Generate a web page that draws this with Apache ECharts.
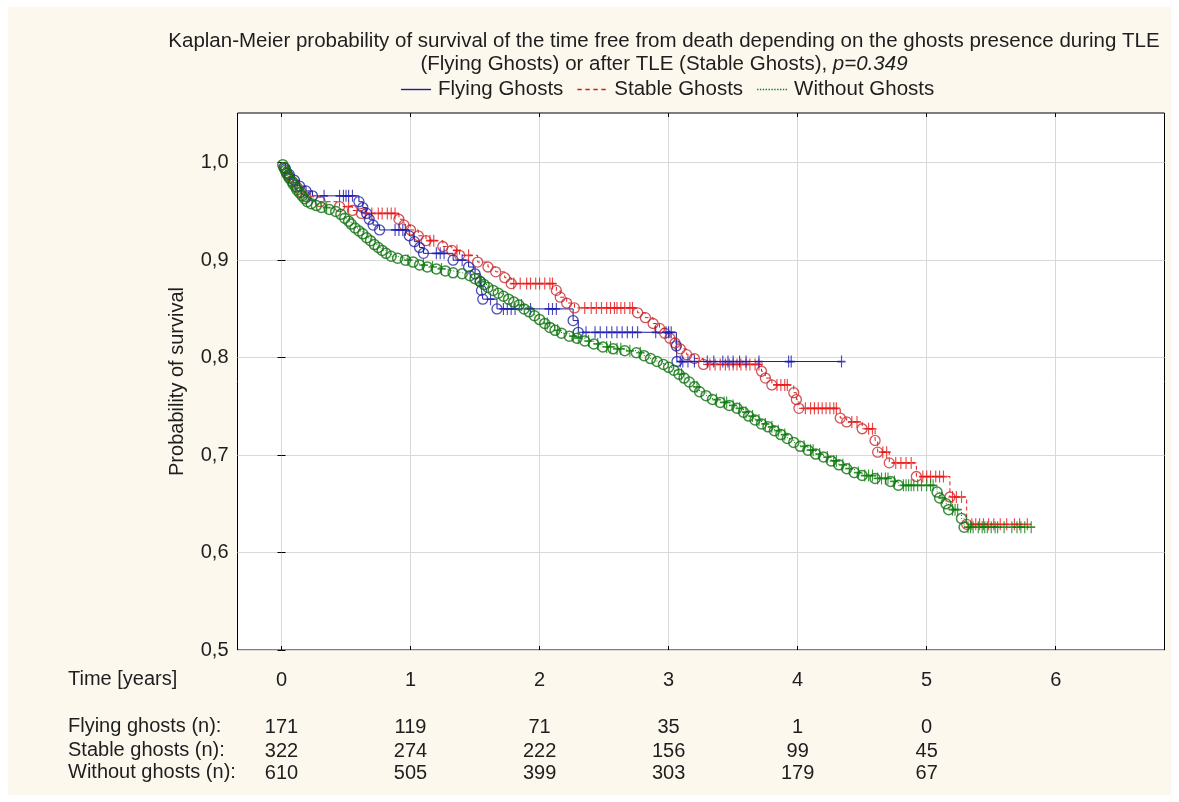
<!DOCTYPE html>
<html>
<head>
<meta charset="utf-8">
<script src="https://cdn.jsdelivr.net/npm/echarts@6/dist/echarts.min.js"></script>
<style>
  html, body { margin: 0; padding: 0; background: #ffffff; }
  #panel { position: absolute; left: 8px; top: 7px; width: 1163px; height: 788px; background: #fcf8ee; }
  #chart { position: absolute; left: 0; top: 0; width: 1179px; height: 802px; }
</style>
</head>
<body>
<div id="panel"></div>
<div id="chart"></div>
<script>
// ---- axes and table ----
const timeTicks = [0, 1, 2, 3, 4, 5, 6];
const survivalTicks = [0.5, 0.6, 0.7, 0.8, 0.9, 1.0];
const riskTimes = [0, 1, 2, 3, 4, 5];
const flyingAtRisk = [171, 119, 71, 35, 1, 0];
const stableAtRisk = [322, 274, 222, 156, 99, 45];
const withoutAtRisk = [610, 505, 399, 303, 179, 67];
const riskRowLabels = ['Flying ghosts (n):', 'Stable ghosts (n):', 'Without ghosts (n):'];
const groupNames = ['Flying Ghosts', 'Stable Ghosts', 'Without Ghosts'];

// ---- Kaplan-Meier estimates: [time in years, survival after the death] ----
const flyingEvents = [
  [0.03, 0.994], [0.06, 0.988], [0.10, 0.982], [0.14, 0.976], [0.19, 0.971], [0.24, 0.966],
  [0.60, 0.960], [0.63, 0.954], [0.66, 0.948], [0.68, 0.942], [0.71, 0.936], [0.76, 0.931],
  [0.99, 0.925], [1.03, 0.919], [1.07, 0.913], [1.10, 0.907],
  [1.33, 0.900], [1.45, 0.893], [1.50, 0.886],
  [1.54, 0.878], [1.55, 0.869], [1.56, 0.860], [1.67, 0.850],
  [2.26, 0.838], [2.30, 0.826], [3.06, 0.812], [3.065, 0.796]
];
// censored follow-up times
const flyingCensored = [
  0.33, 0.45, 0.48, 0.50, 0.52, 0.55, 0.88, 0.91, 0.94, 0.96, 1.20, 1.23, 1.26, 1.40,
  1.62, 1.72, 1.75, 1.78, 1.81, 1.93, 2.07, 2.10, 2.13, 2.36, 2.43, 2.47, 2.52, 2.56,
  2.60, 2.64, 2.68, 2.72, 2.76, 2.90, 2.98, 3.00, 3.02, 3.09, 3.11, 3.15, 3.20, 3.30,
  3.35, 3.42, 3.46, 3.50, 3.55, 3.60, 3.70, 3.93, 3.95, 4.34
];

const stableEvents = [
  [0.02, 0.995], [0.04, 0.990], [0.06, 0.985], [0.09, 0.980], [0.12, 0.975], [0.15, 0.970],
  [0.19, 0.965], [0.30, 0.960], [0.45, 0.955], [0.55, 0.951], [0.62, 0.948],
  [0.91, 0.942], [0.95, 0.936], [1.00, 0.931], [1.06, 0.925], [1.12, 0.920],
  [1.25, 0.914], [1.32, 0.910], [1.38, 0.905], [1.52, 0.898], [1.60, 0.893], [1.66, 0.888],
  [1.73, 0.882], [1.78, 0.876], [2.13, 0.869], [2.16, 0.862], [2.21, 0.856], [2.27, 0.851],
  [2.76, 0.846], [2.82, 0.841], [2.88, 0.835], [2.93, 0.830], [2.97, 0.825], [3.01, 0.820],
  [3.05, 0.815], [3.09, 0.809], [3.14, 0.803], [3.20, 0.799], [3.27, 0.793],
  [3.72, 0.786], [3.75, 0.779], [3.80, 0.772], [3.97, 0.764], [3.99, 0.757], [4.01, 0.748],
  [4.33, 0.738], [4.38, 0.734], [4.50, 0.727], [4.60, 0.715], [4.62, 0.703], [4.71, 0.692],
  [4.92, 0.678], [5.18, 0.657], [5.31, 0.629]
];
const stableCensored = [
  0.52, 0.65, 0.70, 0.75, 0.78, 0.82, 0.85, 0.88, 1.15, 1.18, 1.36, 1.45, 1.80, 1.85,
  1.90, 1.93, 1.97, 2.00, 2.04, 2.08, 2.10, 2.35, 2.40, 2.44, 2.48, 2.52, 2.55, 2.58,
  2.60, 2.63, 2.66, 2.70, 2.72, 3.32, 3.36, 3.40, 3.44, 3.47, 3.50, 3.53, 3.56, 3.60,
  3.63, 3.67, 3.70, 3.84, 3.87, 3.90, 3.92, 4.06, 4.10, 4.13, 4.16, 4.19, 4.22, 4.25,
  4.28, 4.30, 4.42, 4.46, 4.55, 4.58, 4.66, 4.69, 4.76, 4.80, 4.84, 4.88, 4.97, 5.00,
  5.03, 5.07, 5.10, 5.13, 5.20, 5.23, 5.27, 5.35, 5.38, 5.41, 5.44, 5.48, 5.52, 5.57,
  5.62, 5.68, 5.72, 5.78
];

const withoutEvents = [
  [0.01, 0.998], [0.02, 0.995], [0.03, 0.992], [0.04, 0.989], [0.05, 0.987], [0.06, 0.984],
  [0.08, 0.981], [0.09, 0.978], [0.11, 0.975], [0.12, 0.972], [0.14, 0.969], [0.16, 0.966],
  [0.18, 0.963], [0.20, 0.960], [0.23, 0.958], [0.27, 0.956], [0.31, 0.954], [0.37, 0.952],
  [0.42, 0.950], [0.46, 0.947], [0.49, 0.943], [0.52, 0.940], [0.54, 0.937], [0.57, 0.933],
  [0.60, 0.930], [0.63, 0.927], [0.66, 0.923], [0.69, 0.920], [0.72, 0.916], [0.75, 0.913],
  [0.78, 0.910], [0.81, 0.907], [0.85, 0.904], [0.90, 0.902], [0.96, 0.900], [1.02, 0.898],
  [1.07, 0.895], [1.13, 0.893], [1.20, 0.891], [1.27, 0.889], [1.33, 0.887], [1.40, 0.886],
  [1.46, 0.884], [1.50, 0.881], [1.54, 0.878], [1.57, 0.875], [1.60, 0.872], [1.64, 0.869],
  [1.68, 0.866], [1.72, 0.863], [1.76, 0.860], [1.80, 0.857], [1.84, 0.854], [1.88, 0.850],
  [1.92, 0.847], [1.96, 0.843], [2.00, 0.839], [2.04, 0.835], [2.08, 0.831], [2.12, 0.828],
  [2.17, 0.825], [2.23, 0.822], [2.29, 0.820], [2.35, 0.817], [2.42, 0.814], [2.49, 0.811],
  [2.57, 0.809], [2.66, 0.807], [2.75, 0.805], [2.81, 0.802], [2.86, 0.799], [2.91, 0.796],
  [2.96, 0.793], [3.00, 0.790], [3.04, 0.787], [3.08, 0.783], [3.12, 0.779], [3.16, 0.775],
  [3.20, 0.770], [3.24, 0.765], [3.29, 0.761], [3.34, 0.757], [3.40, 0.754], [3.47, 0.751],
  [3.53, 0.748], [3.58, 0.744], [3.62, 0.740], [3.67, 0.736], [3.72, 0.732], [3.77, 0.729],
  [3.82, 0.725], [3.87, 0.721], [3.92, 0.717], [3.97, 0.713], [4.02, 0.709], [4.08, 0.705],
  [4.14, 0.701], [4.20, 0.698], [4.26, 0.694], [4.32, 0.690], [4.38, 0.686], [4.44, 0.682],
  [4.50, 0.679], [4.60, 0.676], [4.72, 0.673], [4.78, 0.669], [5.08, 0.662], [5.10, 0.656],
  [5.15, 0.650], [5.17, 0.644], [5.27, 0.635], [5.29, 0.626]
];
const withoutCensored = [
  0.35, 0.98, 1.10, 1.17, 1.24, 1.55, 1.86, 2.06, 2.14, 2.26, 2.30, 2.38, 2.45, 2.52,
  2.55, 2.60, 2.63, 2.70, 2.78, 3.10, 3.22, 3.37, 3.43, 3.45, 3.50, 3.55, 3.60, 3.65,
  3.70, 3.75, 3.80, 3.85, 3.90, 4.05, 4.10, 4.12, 4.17, 4.23, 4.28, 4.30, 4.35, 4.40,
  4.47, 4.52, 4.55, 4.58, 4.62, 4.65, 4.68, 4.70, 4.75, 4.82, 4.84, 4.86, 4.88, 4.90,
  4.93, 4.96, 5.00, 5.03, 5.05, 5.12, 5.20, 5.22, 5.24, 5.32, 5.34, 5.36, 5.40, 5.43,
  5.45, 5.47, 5.50, 5.53, 5.55, 5.60, 5.66, 5.70, 5.73, 5.76, 5.81
];

// ---- helpers ----
const FONT = '"Liberation Sans", Arial, sans-serif';
const TEXT = '#1e1e1e';

function survivalAt(events, t) {
  let s = 1;
  for (const e of events) { if (e[0] <= t) s = e[1]; else break; }
  return s;
}
function stepCurve(events, censored) {
  const last = Math.max(events[events.length - 1][0], censored[censored.length - 1]);
  return [[0, 1]].concat(events, [[last, survivalAt(events, last)]]);
}
function censorPoints(events, censored) {
  return censored.map(t => [t, survivalAt(events, t)]);
}
const comma = v => v.toFixed(1).replace('.', ',');

// legend keys: a solid, a dashed and a dotted stroke
const solidKey = 'path://M0,0h30v1.4h-30z';
const dashedKey = 'path://M0,0h4.5v1.4h-4.5z M8,0h4.5v1.4h-4.5z M16,0h4.5v1.4h-4.5z M24,0h4.5v1.4h-4.5z M30,0h0.01v1.4h-0.01z';
const dottedKey = 'path://' + Array.from({ length: 11 }, (_, i) => 'M' + (i * 3) + ',0h1.4v1.4h-1.4z').join(' ')
  + ' M30,0h0.01v1.4h-0.01z';

const groups = [
  { name: groupNames[1], events: stableEvents, censored: stableCensored,
    line: '#e01a1a', circle: '#c42a30', plus: '#ea1515', dash: [4, 3], key: dashedKey, w: 1.3 },
  { name: groupNames[0], events: flyingEvents, censored: flyingCensored,
    line: '#1c1ca0', circle: '#2020a8', plus: '#1c1cb0', dash: 'solid', key: solidKey, w: 1.3 },
  { name: groupNames[2], events: withoutEvents, censored: withoutCensored,
    line: '#0b7d0b', circle: '#107210', plus: '#0a7d0a', dash: [1, 2], key: dottedKey, w: 1.5 }
];

const series = [];
groups.forEach(g => {
  series.push({
    name: g.name, type: 'line', step: 'end', symbol: 'none',
    data: stepCurve(g.events, g.censored),
    lineStyle: { color: g.line, width: 1, type: g.dash },
    itemStyle: { color: g.line }, z: 3
  });
  series.push({
    name: g.name + ' deaths', type: 'scatter', symbol: 'circle', symbolSize: 10,
    data: g.events,
    itemStyle: { color: 'transparent', borderColor: g.circle, borderWidth: g.w }, z: 4
  });
  series.push({
    name: g.name + ' censored', type: 'scatter',
    symbol: 'path://M4,0L4,12M0,6L8,6', symbolSize: [8, 12],
    data: censorPoints(g.events, g.censored),
    itemStyle: { color: 'transparent', borderColor: g.plus, borderWidth: 1.4 }, z: 4
  });
});

const X_MIN = -0.341, X_MAX = 6.843;
const tickInside = { show: true, inside: true, length: 4, customValues: timeTicks,
                     lineStyle: { color: '#000', width: 1 } };

function riskAxis(values, offset) {
  return {
    type: 'value', position: 'bottom', min: X_MIN, max: X_MAX, offset: offset,
    axisLine: { show: false, onZero: false }, axisTick: { show: false }, splitLine: { show: false },
    axisLabel: {
      customValues: riskTimes, margin: 0, verticalAlign: 'middle',
      fontSize: 20, fontFamily: FONT, color: TEXT,
      formatter: v => String(values[riskTimes.indexOf(Math.round(v))])
    }
  };
}

const legendOrder = [groups[1], groups[0], groups[2]];

const option = {
  animation: false,
  textStyle: { fontFamily: FONT },
  title: {
    text: '{n|Kaplan-Meier probability of survival of the time free from death depending on the ghosts presence during TLE}\n' +
          '{n|(Flying Ghosts) or after TLE (Stable Ghosts), }{i|p=0.349}',
    left: 664, top: 30, padding: 0, textAlign: 'center',
    textStyle: {
      fontWeight: 'normal', color: TEXT, fontSize: 20.5, lineHeight: 23,
      rich: {
        n: { fontSize: 20.5, fontFamily: FONT, color: TEXT, lineHeight: 23 },
        i: { fontSize: 20.5, fontFamily: FONT, color: TEXT, fontStyle: 'italic', lineHeight: 23 }
      }
    }
  },
  legend: {
    data: legendOrder.map(g => ({ name: g.name, icon: g.key, itemStyle: { color: g.line } })),
    left: 401, top: 79, padding: 0,
    itemWidth: 30, itemHeight: 1.5, itemGap: 14,
    textStyle: { fontSize: 20.5, fontFamily: FONT, color: TEXT, padding: [0, 0, 0, 2] }
  },
  grid: {
    left: 237.5, right: 14.5, top: 113, bottom: 152,
    show: true, backgroundColor: '#ffffff', borderColor: '#000', borderWidth: 1,
    containLabel: false, outerBoundsMode: 'none'
  },
  xAxis: [
    {
      type: 'value', position: 'bottom', min: X_MIN, max: X_MAX,
      axisLine: { show: false, onZero: false },
      axisTick: tickInside,
      axisLabel: { customValues: timeTicks, margin: 30, verticalAlign: 'middle',
                   fontSize: 20, fontFamily: FONT, color: TEXT },
      splitLine: { show: true, lineStyle: { color: '#d9d9d9', width: 1 } }
    },
    {
      type: 'value', position: 'top', min: X_MIN, max: X_MAX,
      axisLine: { show: false, onZero: false }, axisTick: tickInside,
      axisLabel: { show: false }, splitLine: { show: false }
    },
    riskAxis(flyingAtRisk, 77.5),
    riskAxis(stableAtRisk, 101.5),
    riskAxis(withoutAtRisk, 123.5)
  ],
  yAxis: [
    {
      type: 'value', position: 'left', min: 0.5, max: 1.051,
      axisLine: { show: false },
      axisTick: { show: true, inside: true, length: 4, customValues: survivalTicks,
                  lineStyle: { color: '#000' } },
      axisLabel: { customValues: survivalTicks, margin: 9, formatter: comma,
                   fontSize: 20, fontFamily: FONT, color: TEXT },
      splitLine: { show: true, lineStyle: { color: '#d9d9d9', width: 1 } },
      name: 'Probability of survival', nameLocation: 'middle', nameGap: 50,
      nameTextStyle: { fontSize: 20, fontFamily: FONT, color: TEXT }
    },
    {
      type: 'value', position: 'right', min: 0.5, max: 1.051,
      axisLine: { show: false },
      axisTick: { show: true, inside: true, length: 4, customValues: survivalTicks,
                  lineStyle: { color: '#000' } },
      axisLabel: { show: false }, splitLine: { show: false }
    }
  ],
  graphic: [
    { type: 'text', left: 68, top: 669, style: { text: 'Time [years]', fontSize: 20, fontFamily: FONT, fill: TEXT } }
  ].concat(riskRowLabels.map((label, i) => ({
    type: 'text', left: 68, top: [716, 740, 762][i],
    style: { text: label, fontSize: 20, fontFamily: FONT, fill: TEXT }
  }))),
  series: series
};

const chart = echarts.init(document.getElementById('chart'), null, { renderer: 'canvas' });
chart.setOption(option);
</script>
</body>
</html>
